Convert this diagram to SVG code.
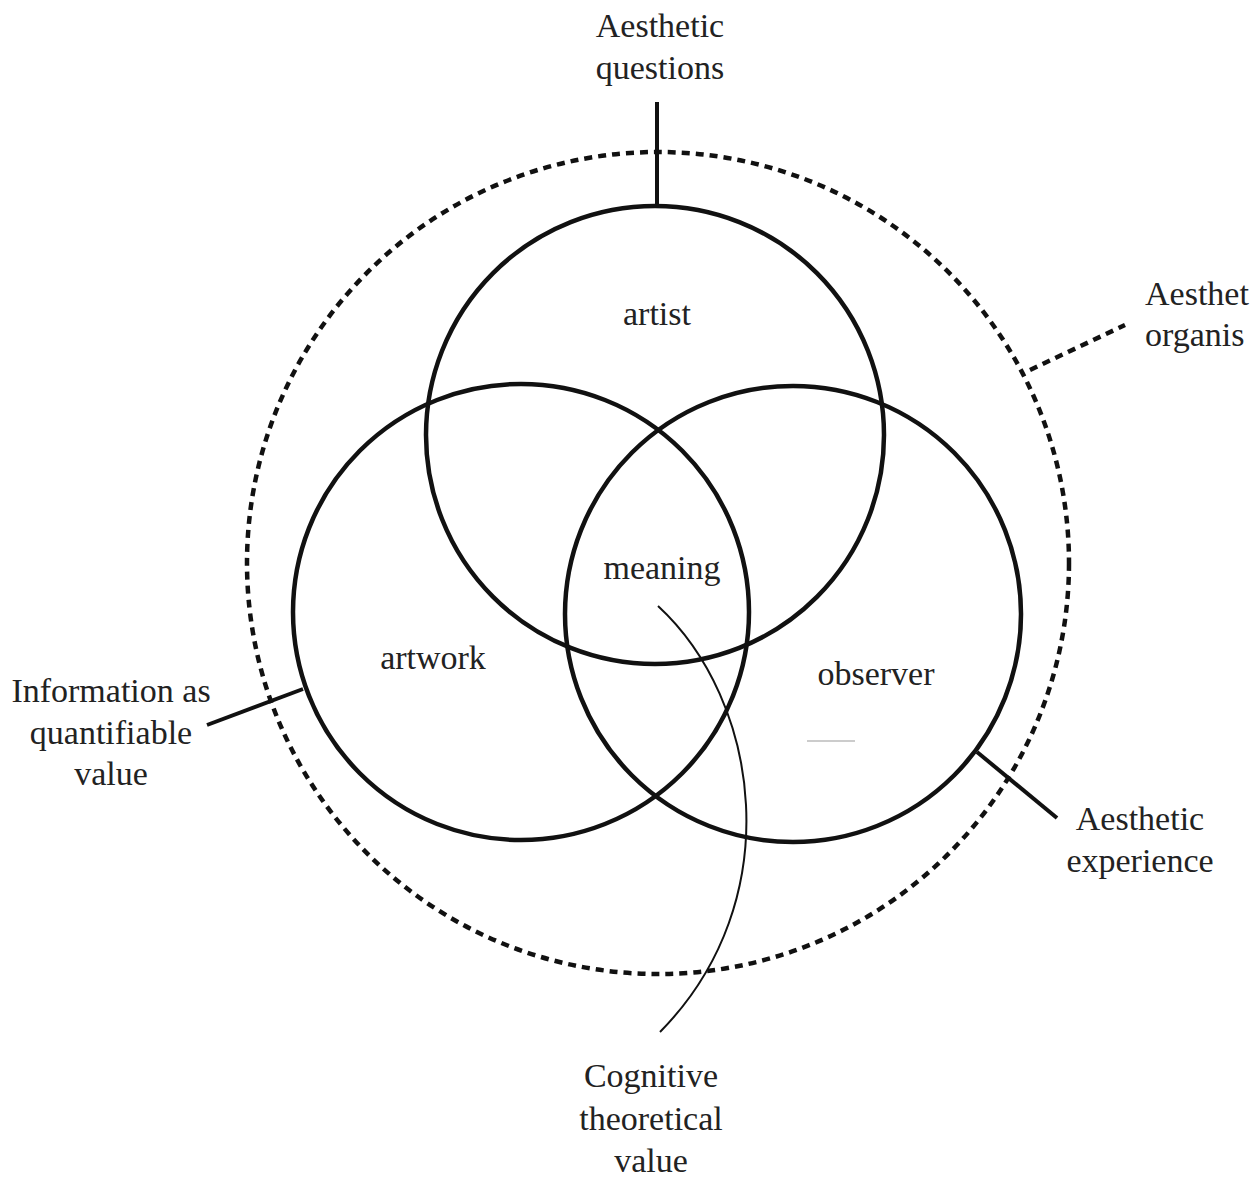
<svg xmlns="http://www.w3.org/2000/svg" width="1251" height="1179" viewBox="0 0 1251 1179">
  <style>
    text { font-family: "Liberation Serif", "Times New Roman", serif; font-size: 34px; fill: #222; }
    .mid { text-anchor: middle; }
    .ring { fill: none; stroke: #111; stroke-width: 4.5; }
    .dash { fill: none; stroke: #111; stroke-width: 4.5; stroke-dasharray: 8 6; }
    .lead { fill: none; stroke: #111; stroke-width: 4; }
    .thin { fill: none; stroke: #111; stroke-width: 2; }
  </style>
  <rect width="1251" height="1179" fill="#fff"/>

  <!-- outer boundary -->
  <g id="boundary">
    <circle class="dash" cx="658" cy="563" r="411"/>
  </g>

  <!-- three overlapping domains -->
  <g id="artist">
    <circle class="ring" cx="655" cy="435" r="229"/>
    <text class="mid" x="657" y="325">artist</text>
  </g>
  <g id="artwork">
    <circle class="ring" cx="521" cy="612" r="228"/>
    <text class="mid" x="433" y="669">artwork</text>
  </g>
  <g id="observer">
    <circle class="ring" cx="793" cy="614" r="228"/>
    <text class="mid" x="876" y="685">observer</text>
    <line x1="807" y1="741" x2="855" y2="741" stroke="#bbb" stroke-width="1.5"/>
  </g>
  <g id="meaning">
    <text class="mid" x="662" y="579">meaning</text>
  </g>

  <!-- leader lines -->
  <g id="connectors">
    <line class="lead" x1="657" y1="102" x2="657" y2="206"/>
    <line class="lead" x1="207" y1="725" x2="303" y2="689"/>
    <line class="lead" x1="977" y1="752" x2="1057" y2="818"/>
    <line class="dash" x1="1030" y1="370" x2="1125" y2="325"/>
    <path class="thin" d="M658,606 C760,700 790,900 660,1032"/>
  </g>

  <!-- outer labels -->
  <g id="label-questions">
    <text class="mid" x="660" y="37">Aesthetic</text>
    <text class="mid" x="660" y="79">questions</text>
  </g>
  <g id="label-organism">
    <text x="1145" y="305">Aesthet</text>
    <text x="1145" y="346">organis</text>
  </g>
  <g id="label-information">
    <text class="mid" x="111" y="702">Information as</text>
    <text class="mid" x="111" y="744">quantifiable</text>
    <text class="mid" x="111" y="785">value</text>
  </g>
  <g id="label-experience">
    <text class="mid" x="1140" y="830">Aesthetic</text>
    <text class="mid" x="1140" y="872">experience</text>
  </g>
  <g id="label-cognitive">
    <text class="mid" x="651" y="1087">Cognitive</text>
    <text class="mid" x="651" y="1130">theoretical</text>
    <text class="mid" x="651" y="1172">value</text>
  </g>
</svg>
